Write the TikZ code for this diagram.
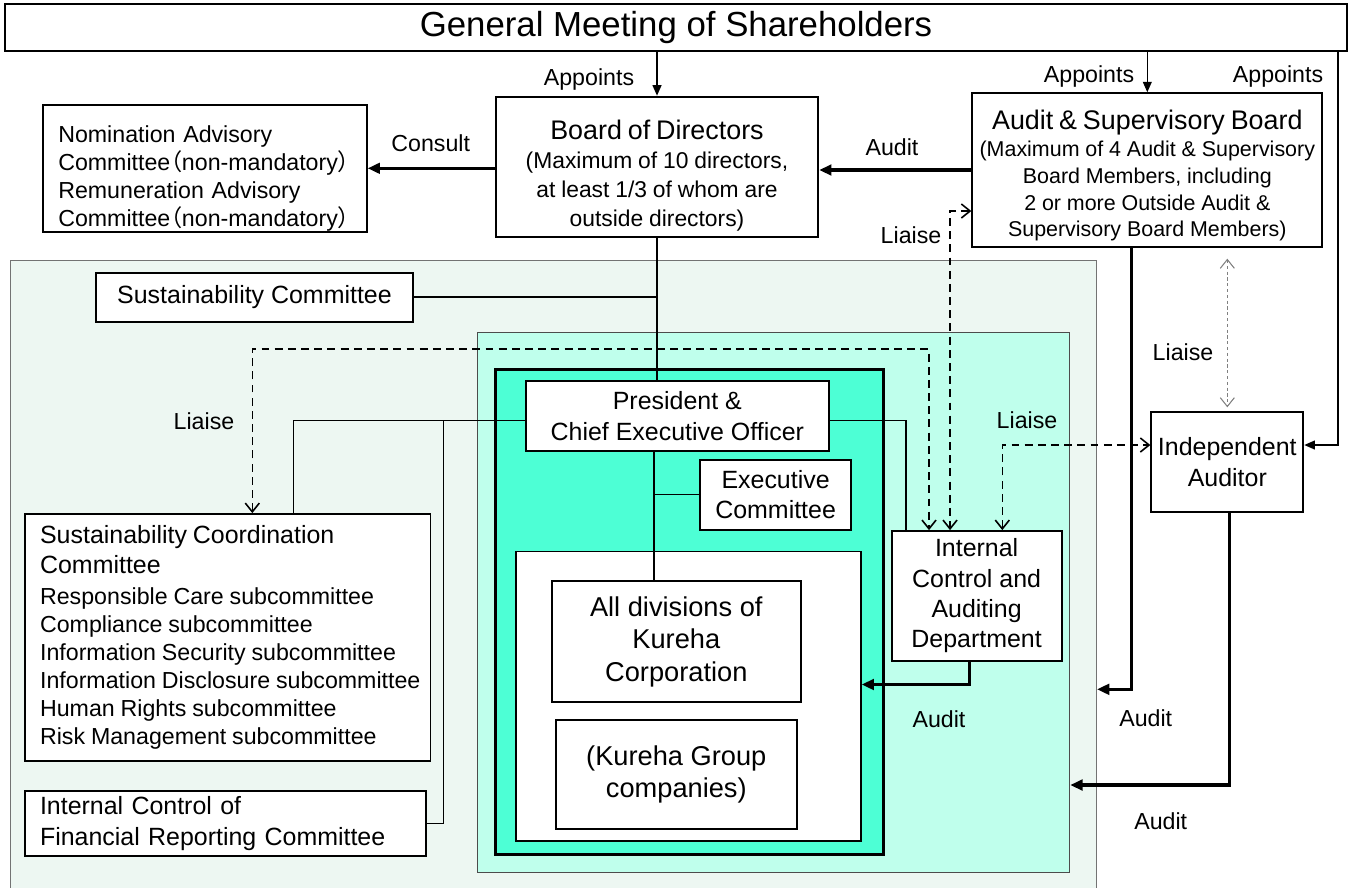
\documentclass[tikz,border=0pt]{standalone}
\usepackage{fontspec}
\setmainfont{Liberation Sans}
\newfontfamily\cjk[RawFeature=+palt]{Noto Sans CJK JP}
\usetikzlibrary{arrows.meta}

\definecolor{zonegreen}{RGB}{237,247,242}
\definecolor{zonecyan}{RGB}{191,255,236}
\definecolor{zoneteal}{RGB}{77,255,213}

\newcommand\ttsz{\fontsize{19.8}{23}\selectfont}
\newcommand\hdsz{\fontsize{15.3}{16}\selectfont}
\newcommand\dvsz{\fontsize{15.5}{18.5}\selectfont}
\newcommand\bdsz{\fontsize{14.2}{17.2}\selectfont}
\newcommand\lbsz{\fontsize{13.2}{15.9}\selectfont}
\newcommand\smsz{\fontsize{13}{16.4}\selectfont}
\newcommand\tnsz{\fontsize{12.2}{15.3}\selectfont}

\begin{document}
\begin{tikzpicture}[x=0.02cm, y=-0.02cm,
    box/.style={draw, line width=1.1pt, fill=white, inner sep=0pt, align=center},
    zone/.style={draw, inner sep=0pt},
    link/.style={line width=0.9pt},
    appoint/.style={line width=0.9pt, -{Triangle[length=6pt,width=5pt]}},
    audit/.style={line width=2pt, -{Triangle[length=7pt,width=6pt]}},
    liaise/.style={line width=0.9pt, dash pattern=on 4.5pt off 3pt,
        {Straight Barb[length=5pt,width=8pt]}-{Straight Barb[length=5pt,width=8pt]}},
    lbl/.style={font=\lbsz, inner sep=0pt}]
    \useasboundingbox (0,0) rectangle (1354,887);
    \clip (0,0) rectangle (1354,887);
    % Draw the shaded zones
    \node[zone, draw=black!55, line width=0.6pt, fill=zonegreen, minimum width=21.73cm, minimum height=12.79cm] (outer) at (553.3,580.3) {};
    \node[zone, draw=black!70, line width=0.6pt, fill=zonecyan, minimum width=11.85cm, minimum height=10.8cm] (cyan) at (773.5,602.7) {};
    \node[zone, line width=1.7pt, fill=zoneteal, minimum width=7.75cm, minimum height=9.71cm] (teal) at (689.5,612.2) {};
    \node[zone, line width=1.1pt, fill=white, minimum width=6.9cm, minimum height=5.79cm] (wb) at (688.2,696.2) {};
    % Draw the boxes
    \node[box, minimum width=26.84cm, minimum height=0.94cm, font=\ttsz] (gm) at (676,27.5) {General Meeting of Shareholders};
    \node[box, text width=6.45cm, minimum height=2.8cm] (bod) at (657,166.7)
        {{\hdsz\rule{0pt}{21pt}Board of Directors\par}\smsz (Maximum of 10 directors,\\ at least 1/3 of whom are\\ outside directors)\par};
    \node[box, minimum width=6.47cm, minimum height=2.53cm, text width=5.87cm, inner xsep=0.3cm, align=left, font=\lbsz] (nac) at (205,168.3)
        {\rule{0pt}{21.5pt}Nomination Advisory\\ Committee{\cjk（}non-mandatory{\cjk）}\\ Remuneration Advisory\\ Committee{\cjk（}non-mandatory{\cjk）}\par};
    \node[box, text width=7cm, minimum height=3.07cm] (asb) at (1147.3,170)
        {{\hdsz\rule{0pt}{17.5pt}Audit \& Supervisory Board\par}\tnsz (Maximum of 4 Audit \& Supervisory\\ Board Members, including\\ 2 or more Outside Audit \&\\ Supervisory Board Members)\par};
    \node[box, minimum width=3.04cm, minimum height=2.01cm, font=\bdsz] (ia) at (1227.3,462) {Independent\\ Auditor};
    \node[box, minimum width=6.33cm, minimum height=0.98cm, font=\bdsz] (sust) at (254.5,297.2) {Sustainability Committee};
    \node[box, minimum width=8.11cm, minimum height=4.93cm, text width=7.51cm, inner xsep=0.3cm, align=left] (scc) at (227.8,637.3)
        {{\fontsize{14.2}{17}\selectfont Sustainability Coordination\\ Committee\par}\vspace{1.5pt}
         \lbsz Responsible Care subcommittee\\ Compliance subcommittee\\ Information Security subcommittee\\
         \mbox{Information Disclosure subcommittee}\\ Human Rights subcommittee\\ Risk Management subcommittee\par};
    \node[box, minimum width=8.02cm, minimum height=1.31cm, text width=7.42cm, inner xsep=0.3cm, align=left,
        font=\fontsize{14.2}{17.9}\selectfont] (icfr) at (225.5,823.3) {Internal Control of\\ Financial Reporting Committee};
    \node[box, minimum width=6.07cm, minimum height=1.39cm, font=\fontsize{14.2}{17.6}\selectfont] (pres) at (677.3,415.8) {President \&\\ Chief Executive Officer};
    \node[box, minimum width=3.03cm, minimum height=1.39cm, font=\fontsize{14.2}{16.8}\selectfont] (exec) at (775.6,494.8) {Executive\\ Committee};
    \node[box, minimum width=4.99cm, minimum height=2.43cm, font=\dvsz] (div) at (676.3,641.5) {All divisions of\\ Kureha\\ Corporation};
    \node[box, minimum width=4.81cm, minimum height=2.18cm, font=\dvsz] (grp) at (676.3,774.5) {(Kureha Group\\ companies)};
    \node[box, minimum width=3.4cm, minimum height=2.59cm, font=\bdsz] (icad) at (976.6,595.8) {Internal\\ Control and\\ Auditing\\ Department};
    % Turning points of the connectors
    \coordinate (rl) at (1338,445);
    \coordinate (lowspine) at (654,494.5);
    \coordinate (pl) at (293.3,420.6);
    \coordinate (pb) at (443.3,420.6);
    \coordinate (pr) at (906,420.6);
    \coordinate (dl) at (252.3,349);
    \coordinate (dr) at (929,349);
    \coordinate (da) at (950,211);
    \coordinate (di) at (1002.3,445);
    \coordinate (ai) at (969.7,684.5);
    \coordinate (ao) at (1131.7,689.3);
    \coordinate (ac) at (1229.5,785);
    % Appointments
    \draw[appoint] (gm.south -| bod.north) -- (bod.north);
    \draw[appoint] (gm.south -| asb.north) -- (asb.north);
    \draw[appoint] (gm.south -| rl) -- (rl) -- (ia.east |- rl);
    % Consult and audit between the boards
    \draw[audit] (bod.west |- nac.east) -- (nac.east);
    \draw[audit] (asb.west) -- (bod.east |- asb.west);
    % Reporting lines
    \draw[link] (bod.south) -- (pres.north -| bod.south);
    \draw[link] (sust.east) -- (sust.east -| bod.south);
    \draw[link] (pres.south -| lowspine) -- (div.north -| lowspine);
    \draw[link] (lowspine) -- (exec.west |- lowspine);
    \draw[link] (pres.west |- pl) -- (pl) -- (scc.north -| pl);
    \draw[link] (pb) |- (icfr.east);
    \draw[link] (pres.east |- pr) -- (pr) -- (icad.north -| pr);
    % Liaise lines
    \draw[liaise] (scc.north -| dl) -- (dl) -- (dr) -- (icad.north -| dr);
    \draw[liaise] (asb.west |- da) -- (da) -- (icad.north -| da);
    \draw[liaise] (icad.north -| di) -- (di) -- (ia.west |- di);
    \draw[liaise, draw=black!50, line width=0.6pt, dash pattern=on 1.8pt off 1.5pt, shorten <=0.22cm, shorten >=0.07cm]
        (asb.south -| ia.north) -- (ia.north);
    % Audit lines
    \draw[audit] (icad.south -| ai) -- (ai) -- (wb.east |- ai);
    \draw[audit] (asb.south -| ao) -- (ao) -- (outer.east |- ao);
    \draw[audit] (ia.south -| ac) -- (ac) -- (cyan.east |- ac);
    % Labels
    \node[lbl] (lapp1) at (589,79.3) {Appoints};
    \node[lbl] (lapp2) at (1089,76.7) {Appoints};
    \node[lbl] (lapp3) at (1278,76.7) {Appoints};
    \node[lbl] (lcons) at (430.7,143.3) {Consult};
    \node[lbl] (laud1) at (892,147) {Audit};
    \node[lbl] (llia1) at (911,235) {Liaise};
    \node[lbl] (llia2) at (1183,351.7) {Liaise};
    \node[lbl] (llia3) at (204,420.7) {Liaise};
    \node[lbl] (llia4) at (1027,420) {Liaise};
    \node[lbl] (laud2) at (939,719) {Audit};
    \node[lbl] (laud3) at (1145.7,718.3) {Audit};
    \node[lbl] (laud4) at (1160.7,820.7) {Audit};
\end{tikzpicture}
\end{document}
